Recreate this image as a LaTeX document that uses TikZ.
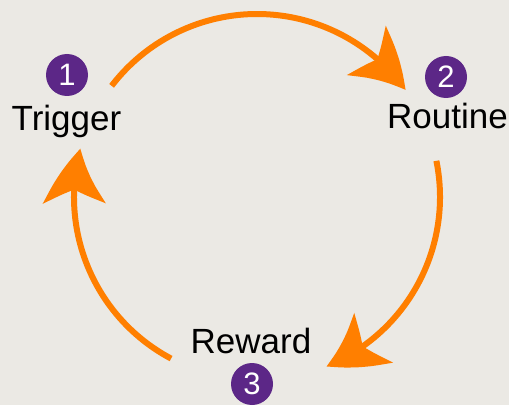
\documentclass[tikz,border=0pt]{standalone}
\usepackage{fontspec}
\setmainfont{Liberation Sans}
\usetikzlibrary{arrows.meta,bending,calc}
\definecolor{bgpaper}{RGB}{235,233,228}
\definecolor{cycleorange}{RGB}{255,127,0}
\definecolor{badgepurple}{RGB}{92,39,135}
\begin{document}
\begin{tikzpicture}[x=1pt,y=1pt,
  cyclearrow/.style={draw=cycleorange, line width=6pt,
    -{Stealth[length=56pt, width=62pt, inset=14pt, bend]}},
  badge/.style={circle, fill=badgepurple, minimum size=42pt, inner sep=0pt,
    text=white, font=\fontsize{31}{31}\selectfont},
  steplabel/.style={anchor=base, inner sep=0pt, font=\fontsize{35}{35}\selectfont}]
  % page area
  \fill[bgpaper] (0,0) rectangle (509,405);
  \useasboundingbox (0,0) rectangle (509,405);

  % centre of the habit loop
  \coordinate (ctr) at (257,208);

  % step badges and labels
  \node[badge] (b1) at (67,330) {1};
  \node[badge] (b2) at (446,328) {2};
  \node[badge] (b3) at (252,21) {3};
  \node[steplabel] (trigger) at (66.5,274) {Trigger};
  \node[steplabel] (routine) at (447.5,276) {Routine};
  \node[steplabel] (reward) at (251,52) {Reward};

  % arc end points on the loop
  \coordinate (s1) at ($(ctr)+(142.6:183)$);
  \coordinate (s2) at ($(ctr)+(11.4:183)$);
  \coordinate (s3) at ($(ctr)+(-118:183)$);

  % trigger -> routine -> reward -> trigger
  \draw[cyclearrow] (s1) arc[start angle=142.6, end angle=35.8, radius=183];
  \draw[cyclearrow] (s2) arc[start angle=11.4, end angle=-67.7, radius=183];
  \draw[cyclearrow] (s3) arc[start angle=-118, end angle=-195.3, radius=183];
\end{tikzpicture}
\end{document}
